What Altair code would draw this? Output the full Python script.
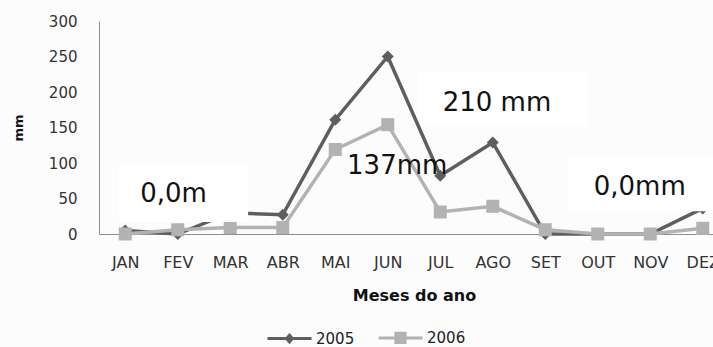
import json

import altair as alt
import pandas as pd

# Monthly rainfall (mm) for two years
months = ["JAN", "FEV", "MAR", "ABR", "MAI", "JUN", "JUL", "AGO", "SET", "OUT", "NOV", "DEZ"]
rain_2005 = [5, 0, 30, 27, 161, 250, 82, 129, 0, 0, 0, 36]
rain_2006 = [0, 6, 9, 9, 119, 154, 31, 39, 6, 0, 0, 8]
years = ["2005", "2006"]
y_ticks = [0, 50, 100, 150, 200, 250, 300]

# Text notes placed in data units (month index, mm)
note_text = ["0,0m", "137mm", "210 mm", "0,0mm"]
note_x = [0.92, 5.18, 7.08, 9.8]
note_y = [56, 96, 185, 66]

# White label panels behind / over the lines (month index, mm)
panel_x = [5.57, -0.12, 8.43]
panel_x2 = [8.8, 2.34, 12.5]
panel_y = [151, 17, 32]
panel_y2 = [228, 97, 111]
panel_front = [False, True, True]

C05 = "#5e5e5e"
C06 = "#b2b2b2"
FONT = "DejaVu Sans"

rows = []
for i, m in enumerate(months):
    rows.append({"idx": i, "mes": m, "ano": years[0], "mm": rain_2005[i]})
    rows.append({"idx": i, "mes": m, "ano": years[1], "mm": rain_2006[i]})
df = pd.DataFrame(rows)

notes = pd.DataFrame({"txt": note_text, "x": note_x, "y": note_y})
panels = pd.DataFrame({"x": panel_x, "x2": panel_x2, "y": panel_y, "y2": panel_y2, "front": panel_front})

x_scale = alt.Scale(domain=[-0.5, 11.5], range=[0, 630], nice=False, zero=False)
y_scale = alt.Scale(domain=[0, 300], nice=False)

label_expr = json.dumps(months) + "[datum.value]"

x_axis = alt.Axis(
    values=list(range(12)), labelExpr=label_expr, grid=False, ticks=False,
    domainColor="#8f8f8f", domainWidth=1, labelFlush=False, labelFont=FONT,
    labelFontSize=16, labelColor="#333333", labelPadding=20,
    titleFont=FONT, titleFontSize=16, titleFontWeight="bold",
    titleColor="#111111", titleY=61, titleBaseline="middle",
)
y_axis = alt.Axis(
    values=y_ticks, grid=False, ticks=False, domainColor="#8f8f8f", domainWidth=1,
    labelFont=FONT, labelFontSize=15, labelColor="#333333", labelPadding=22,
    titleFont=FONT, titleFontSize=13, titleFontWeight="bold",
    titleColor="#111111", titleX=-81, titleY=106.5, titleBaseline="middle",
)
X_TITLE = "Meses do ano"
Y_TITLE = "mm"

# Legend glyphs: a short line with the series marker in its middle
sym05 = "M-1,0L1,0M0,-0.15L0.13,0L0,0.15L-0.13,0Z"
sym06 = "M-1,0L1,0M-0.21,-0.21L0.21,-0.21L0.21,0.21L-0.21,0.21Z"
pick_color = f"datum.value === '2005' ? '{C05}' : '{C06}'"

legend = alt.Legend(
    title=None, orient="none", direction="horizontal", legendX=167, legendY=293,
    symbolSize=1936, symbolStrokeWidth=3,
    symbolType={"expr": f"datum.value === '2005' ? '{sym05}' : '{sym06}'"},
    symbolFillColor={"expr": pick_color},
    symbolStrokeColor={"expr": pick_color},
    symbolOpacity=1,
    labelFont=FONT, labelFontSize=15, labelColor="#222222",
    labelOffset=3, columnPadding=17,
)

color_scale = alt.Scale(domain=years, range=[C05, C06])
marker_shape = {"2005": "diamond", "2006": "square"}
marker_size = {"2005": 144, "2006": 169}


def xenc(field):
    return alt.X(field, scale=x_scale, axis=x_axis, title=X_TITLE)


def yenc(field):
    return alt.Y(field, scale=y_scale, axis=y_axis, title=Y_TITLE)


back_panel = alt.Chart(panels).transform_filter("!datum.front").mark_rect(color="white").encode(
    x=xenc("x:Q"), x2="x2:Q", y=yenc("y:Q"), y2="y2:Q",
)

lines = alt.Chart(df).mark_line(strokeWidth=3.5).encode(
    x=xenc("idx:Q"),
    y=yenc("mm:Q"),
    color=alt.Color("ano:N", scale=color_scale, legend=legend),
)

point_layers = [
    alt.Chart(df)
    .transform_filter(alt.datum.ano == yr)
    .mark_point(filled=True, opacity=1, shape=marker_shape[yr], size=marker_size[yr])
    .encode(
        x=xenc("idx:Q"),
        y=yenc("mm:Q"),
        color=alt.Color("ano:N", scale=color_scale, legend=legend),
    )
    for yr in years
]

front_panel = alt.Chart(panels).transform_filter("datum.front").mark_rect(color="white").encode(
    x=xenc("x:Q"), x2="x2:Q", y=yenc("y:Q"), y2="y2:Q",
)

texts = alt.Chart(notes).mark_text(
    font=FONT, fontSize=26, color="#111111", align="center", baseline="middle"
).encode(
    x=xenc("x:Q"),
    y=yenc("y:Q"),
    text="txt:N",
)

chart = (
    alt.layer(back_panel, lines, *point_layers, front_panel, texts)
    .properties(
        width=614, height=213,
        autosize=alt.AutoSizeParams(type="none"),
        padding={"left": 99, "top": 21, "right": 0, "bottom": 113},
        background="#fcfcfc",
    )
    .configure_view(strokeWidth=0)
)

chart.save("out.html", embed_options={"renderer": "svg", "actions": False})
